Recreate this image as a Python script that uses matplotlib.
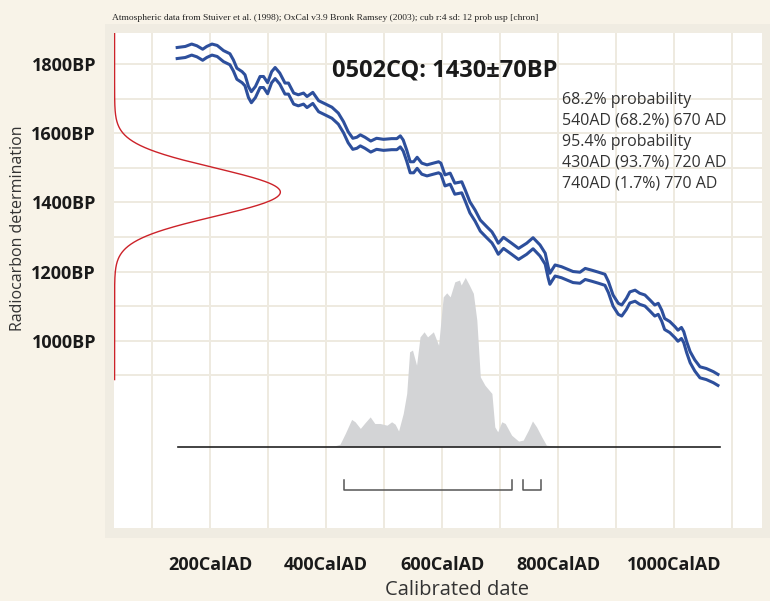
import numpy as np
import matplotlib
matplotlib.use("Agg")
import matplotlib.pyplot as plt
from matplotlib.patches import Rectangle

# measurement
SAMPLE = "0502CQ"
C14_AGE = 1430
C14_ERR = 70

# calibration curve (centre, cal AD vs BP)
cal_ad = [143, 157, 168, 177, 187, 194, 203, 212, 223, 234, 240, 246, 255, 260,
          266, 271, 278, 286, 292, 299, 306, 312, 320, 329, 335, 344, 352, 361,
          367, 377, 387, 398, 410, 421, 430, 438, 446, 453, 459, 467, 477, 487,
          499, 513, 522, 528, 533, 539, 545, 551, 557, 565, 574, 585, 594, 598,
          605, 614, 622, 634, 640, 648, 657, 666, 677, 686, 691, 697, 706, 720,
          732, 746, 757, 769, 778, 783, 786, 795, 806, 826, 838, 847, 858, 870,
          881, 887, 895, 904, 910, 918, 924, 933, 941, 950, 959, 967, 973, 979,
          984, 993, 1002, 1007, 1013, 1017, 1022, 1028, 1036, 1045, 1056, 1068, 1076]
cal_bp = [1833, 1836, 1843, 1838, 1828, 1836, 1843, 1839, 1824, 1815, 1797, 1773,
          1763, 1754, 1720, 1705, 1720, 1749, 1749, 1731, 1763, 1775, 1759, 1730,
          1730, 1701, 1696, 1701, 1691, 1703, 1679, 1670, 1660, 1643, 1618, 1589,
          1570, 1573, 1580, 1573, 1562, 1570, 1567, 1569, 1569, 1577, 1565, 1536,
          1502, 1502, 1515, 1498, 1493, 1498, 1502, 1498, 1464, 1469, 1440, 1444,
          1420, 1386, 1362, 1333, 1314, 1299, 1285, 1266, 1283, 1266, 1251, 1266,
          1282, 1261, 1237, 1198, 1179, 1203, 1198, 1184, 1182, 1193, 1188, 1182,
          1176, 1155, 1116, 1092, 1087, 1106, 1125, 1130, 1121, 1116, 1101, 1087,
          1092, 1072, 1048, 1039, 1024, 1014, 1022, 1010, 981, 952, 928, 908,
          903, 894, 886]
cal_sigma = 16

# calibrated probability (relative to max)
prob_ad = [390, 403, 415, 424, 433, 444, 450, 459, 467, 476, 484, 493, 505, 513,
           519, 525, 533, 539, 544, 549, 556, 562, 569, 575, 585, 594, 602, 608,
           614, 622, 630, 633, 640, 647, 654, 660, 666, 674, 686, 691, 696, 703,
           709, 720, 732, 740, 749, 756, 763, 772, 780, 795, 806]
prob_p = [0.0, 0.004, 0.006, 0.016, 0.079, 0.162, 0.148, 0.109, 0.142, 0.177,
          0.138, 0.138, 0.128, 0.148, 0.134, 0.094, 0.197, 0.315, 0.561, 0.571,
          0.482, 0.649, 0.679, 0.649, 0.679, 0.600, 0.885, 0.909, 0.885, 0.974,
          0.984, 0.955, 1.0, 0.955, 0.906, 0.748, 0.413, 0.364, 0.315, 0.118,
          0.089, 0.148, 0.138, 0.069, 0.034, 0.040, 0.099, 0.153, 0.118, 0.059,
          0.010, 0.004, 0.0]

# 95.4% ranges drawn as brackets
ranges = [(430, 720), (740, 770)]

range_text = ["68.2% probability",
              "540AD (68.2%) 670 AD",
              "95.4% probability",
              "430AD (93.7%) 720 AD",
              "740AD (1.7%) 770 AD"]

x_ticks = [200, 400, 600, 800, 1000]
y_ticks = [1000, 1200, 1400, 1600, 1800]

W, H = 770, 601
BG = "#f8f3e8"
FRAME = "#f0ece2"
GRID = "#eeeae0"
BLUE = "#2d4f9c"
RED = "#cc2229"

fig = plt.figure(figsize=(W / 100, H / 100), dpi=100, facecolor=BG)


def fx(px):
    return px / W


def fy(py):
    return 1 - py / H


fig.patches.append(Rectangle((fx(105), fy(538)), fx(770) - fx(105), fy(24) - fy(538),
                             transform=fig.transFigure, facecolor=FRAME,
                             edgecolor="none", zorder=-5))

ax = fig.add_axes([fx(114), fy(528), fx(762) - fx(114), fy(33) - fy(528)])
ax.set_zorder(2)
ax.set_facecolor("white")
ax.set_xlim(34, 1152)
ax.set_ylim(457, 1891)
for s in ax.spines.values():
    s.set_visible(False)

for g in range(100, 1200, 100):
    ax.axvline(g, color=GRID, lw=1.4, zorder=0)
for g in range(900, 1900, 100):
    ax.axhline(g, color=GRID, lw=1.4, zorder=0)

# radiocarbon date on the y axis
bp = np.linspace(887, 1891, 500)
dens = np.exp(-0.5 * ((bp - C14_AGE) / C14_ERR) ** 2)
ax.plot(35 + 286 * dens, bp, color=RED, lw=1.0, zorder=3)

# calibration curve band
cal_bp = np.array(cal_bp)
ax.plot(cal_ad, cal_bp + cal_sigma, color=BLUE, lw=2.2, zorder=4)
ax.plot(cal_ad, cal_bp - cal_sigma, color=BLUE, lw=2.2, zorder=4)

# calibrated distribution
base = 692
scale = 491
ax.fill_between(prob_ad, base, base + scale * np.array(prob_p),
                color="#d3d4d6", lw=0, zorder=2)
ax.plot([145, 1079], [base, base], color="#222222", lw=1.2, zorder=3)

# range brackets
for a, b in ranges:
    ax.plot([a, a, b, b], [596, 567, 567, 596], color="#555555", lw=1.1, zorder=3)

ax.set_xticks(x_ticks)
ax.set_xticklabels([f"{v}CalAD" for v in x_ticks])
ax.set_yticks(y_ticks)
ax.set_yticklabels([f"{v}BP" for v in y_ticks])
ax.tick_params(length=0, labelsize=13, colors="#1a1a1a")
ax.tick_params(axis="x", pad=20)
ax.tick_params(axis="y", pad=13)
for lab in ax.get_xticklabels() + ax.get_yticklabels():
    lab.set_fontfamily("Open Sans")
    lab.set_fontweight("bold")

fig.text(fx(112), fy(18),
         "Atmospheric data from Stuiver et al. (1998); OxCal v3.9 Bronk Ramsey (2003); "
         "cub r:4 sd: 12 prob usp [chron]",
         family="Liberation Serif", fontsize=6.8, color="#222222", va="center")

fig.text(fx(332), fy(70), f"{SAMPLE}: {C14_AGE}\u00b1{C14_ERR}BP",
         family="Open Sans", fontweight="bold", fontsize=17, color="#1a1a1a",
         va="center", zorder=5)

for i, line in enumerate(range_text):
    fig.text(fx(562), fy(99.5 + i * 21.1), line, family="Open Sans", fontsize=11.5,
             color="#333333", va="center", zorder=5)

fig.text(fx(457), fy(590), "Calibrated date", family="Open Sans", fontsize=14.5,
         color="#333333", ha="center", va="center")
fig.text(fx(18), fy(228), "Radiocarbon determination", family="Open Sans",
         fontsize=11.5, color="#333333", ha="center", va="center", rotation=90)

fig.savefig("out.png", dpi=100, facecolor=BG)
